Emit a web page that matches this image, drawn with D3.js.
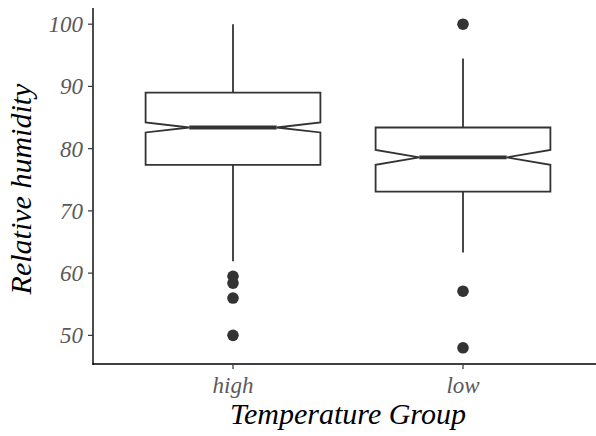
<!DOCTYPE html>
<html>
<head>
<meta charset="utf-8">
<script src="https://cdn.jsdelivr.net/npm/d3@7"></script>
<style>
html,body{margin:0;padding:0;background:#fff;}
svg{display:block;}
</style>
</head>
<body>
<svg id="chart" width="596" height="436"></svg>
<script>
// ---- data ----
const groups      = ["high", "low"];
const q1          = [77.4, 73.1];
const medians     = [83.4, 78.6];
const q3          = [89.0, 83.4];
const notchLow    = [82.6, 77.4];
const notchHigh   = [84.2, 79.8];
const whiskerLow  = [61.9, 63.3];
const whiskerHigh = [100.0, 94.5];
const outliers    = [[59.5, 58.4, 56.0, 50.0], [100.0, 57.1, 48.0]];
const yTicks      = [50, 60, 70, 80, 90, 100];

(function () {
const svg = d3.select("#chart");
const mLeft = 93, mBottom = 364, mTop = 8, mRight = 601;

const y = d3.scaleLinear().domain([45.4, 102.6]).range([mBottom, mTop]);
const x = d3.scalePoint().domain(groups).range([95, mRight]).padding(0.6);
const step = x.step();
const boxW = 0.76 * step;

const boxes = groups.map((g, i) => ({
  g, q1: q1[i], med: medians[i], q3: q3[i], nl: notchLow[i], nh: notchHigh[i],
  wl: whiskerLow[i], wh: whiskerHigh[i], out: outliers[i]
}));

const stroke = "#333333";
const gBox = svg.append("g");

boxes.forEach(b => {
  const cx = x(b.g);
  const x0 = cx - boxW / 2, x1 = cx + boxW / 2;
  const ind = boxW / 4;
  gBox.append("line").attr("x1", cx).attr("x2", cx)
    .attr("y1", y(b.q3)).attr("y2", y(b.wh))
    .attr("stroke", stroke).attr("stroke-width", 1.8);
  gBox.append("line").attr("x1", cx).attr("x2", cx)
    .attr("y1", y(b.q1)).attr("y2", y(b.wl))
    .attr("stroke", stroke).attr("stroke-width", 1.8);
  const pts = [
    [x0, y(b.q3)], [x0, y(b.nh)], [x0 + ind, y(b.med)], [x0, y(b.nl)], [x0, y(b.q1)],
    [x1, y(b.q1)], [x1, y(b.nl)], [x1 - ind, y(b.med)], [x1, y(b.nh)], [x1, y(b.q3)]
  ];
  gBox.append("path")
    .attr("d", d3.line()(pts) + "Z")
    .attr("fill", "#fff").attr("stroke", stroke).attr("stroke-width", 1.8)
    .attr("stroke-linejoin", "miter");
  gBox.append("line").attr("x1", x0 + ind).attr("x2", x1 - ind)
    .attr("y1", y(b.med)).attr("y2", y(b.med))
    .attr("stroke", stroke).attr("stroke-width", 3.8);
  gBox.selectAll(null).data(b.out).enter().append("circle")
    .attr("cx", cx).attr("cy", d => y(d)).attr("r", 5.8)
    .attr("fill", stroke);
});

const font = "'Liberation Serif', 'Times New Roman', serif";
const axG = svg.append("g");
axG.append("line").attr("x1", mLeft).attr("x2", mLeft).attr("y1", mTop).attr("y2", mBottom + 0.7)
  .attr("stroke", "#000").attr("stroke-width", 1.4);
axG.append("line").attr("x1", mLeft - 0.7).attr("x2", 596).attr("y1", mBottom).attr("y2", mBottom)
  .attr("stroke", "#000").attr("stroke-width", 1.4);

yTicks.forEach(t => {
  axG.append("line").attr("x1", mLeft - 5).attr("x2", mLeft).attr("y1", y(t)).attr("y2", y(t))
    .attr("stroke", "#333").attr("stroke-width", 1.2);
  axG.append("text").attr("x", mLeft - 10).attr("y", y(t)).attr("dy", "0.35em")
    .attr("text-anchor", "end").attr("font-family", font).attr("font-style", "italic")
    .attr("font-size", 23).attr("fill", "#5a5a5a").text(t);
});
groups.forEach(g => {
  axG.append("line").attr("x1", x(g)).attr("x2", x(g)).attr("y1", mBottom).attr("y2", mBottom + 5)
    .attr("stroke", "#333").attr("stroke-width", 1.2);
  axG.append("text").attr("x", x(g)).attr("y", 393)
    .attr("text-anchor", "middle").attr("font-family", font).attr("font-style", "italic")
    .attr("font-size", 23).attr("fill", "#5a5a5a").text(g);
});

svg.append("text").attr("x", 348).attr("y", 424).attr("text-anchor", "middle")
  .attr("font-family", font).attr("font-style", "italic").attr("font-size", 30)
  .attr("fill", "#000").text("Temperature Group");
svg.append("text").attr("transform", "translate(31,189) rotate(-90)")
  .attr("text-anchor", "middle")
  .attr("font-family", font).attr("font-style", "italic").attr("font-size", 30)
  .attr("fill", "#000").text("Relative humidity");
})();
</script>
</body>
</html>
